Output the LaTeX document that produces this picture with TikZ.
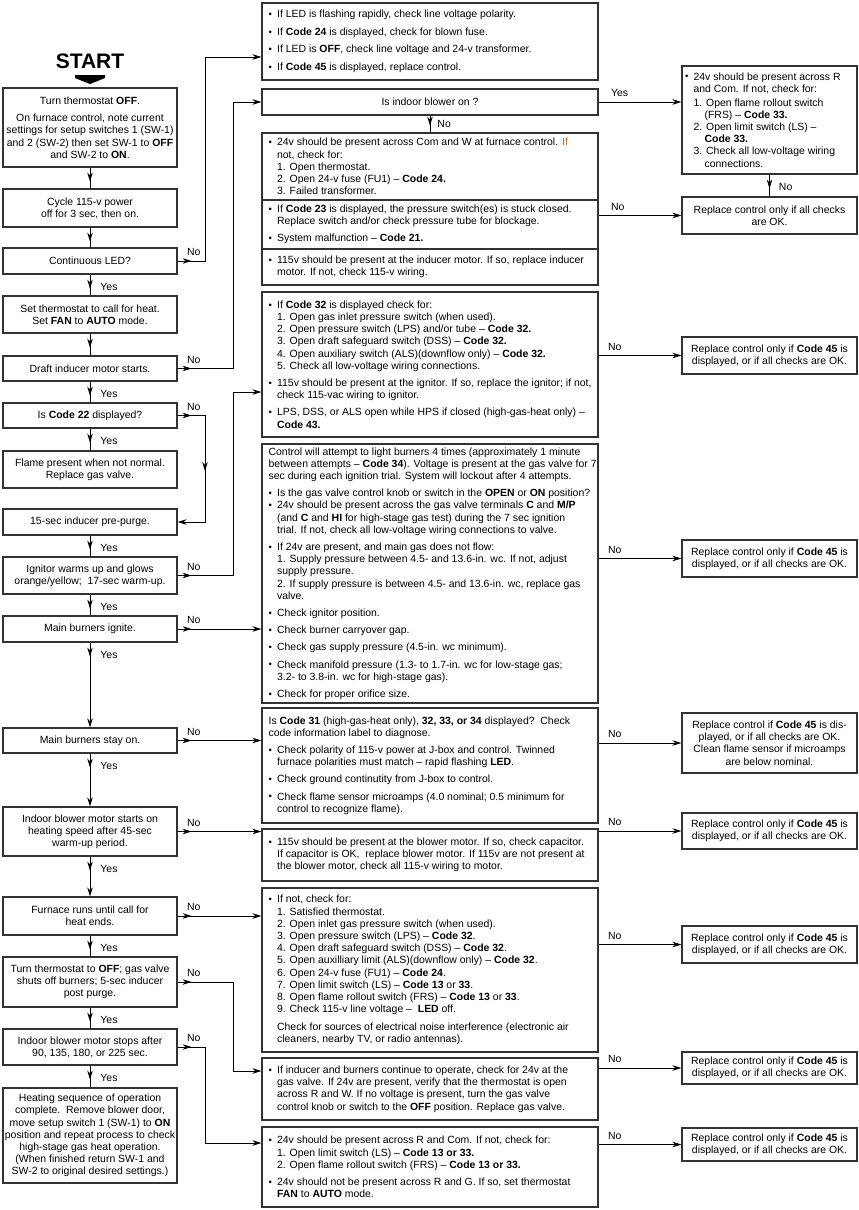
\documentclass[tikz,border=0pt]{standalone}
\usepackage{fontspec}
\setmainfont{Liberation Sans}
\usetikzlibrary{arrows.meta,decorations.markings}

\definecolor{ifcol}{HTML}{C8641E}
\newcommand{\bul}{\makebox[8.5pt][l]{\raisebox{0.3pt}{\fontsize{9.5}{9.5}\selectfont\textbullet}}}
\newcommand{\indt}{\hspace*{8.5pt}}
\newcommand{\subi}{\hspace*{19.5pt}}

\tikzset{
  >={Stealth[length=9pt,width=5.5pt]},
  every node/.style={font=\fontsize{10.45}{12.2}\selectfont},
  lbox/.style={draw=black!80, line width=1.2pt, minimum width=174pt, inner xsep=1pt, inner ysep=0pt, align=center},
  mbox/.style={draw=black!80, line width=1.2pt, minimum width=336pt, inner sep=0pt, align=center},
  mtext/.style={anchor=west, xshift=7pt, align=left, inner sep=0pt},
  rbox/.style={draw=black!80, line width=1.2pt, minimum width=175pt, inner sep=1pt, align=center},
  flow/.style={line width=0.9pt},
  tipat/.style={postaction={decorate, decoration={markings, mark=at position #1 with {\arrow{>}}}}},
  lbl/.style={inner sep=0pt},
  nolbl/.style={lbl, anchor=south west, xshift=9pt, yshift=4.5pt},
  yeslbl/.style={lbl, anchor=west, xshift=10pt, yshift=-12.5pt}
}

\begin{document}
\begin{tikzpicture}[x=1pt,y=-1pt]
  \useasboundingbox (0,0) rectangle (859,1210);
  \fill[white] (0,0) rectangle (859,1210);

  % start
  \node[font=\fontsize{21}{21}\selectfont\bfseries] (start) at (90,61) {START};
  \fill (75,75) -- (105,75) -- (105,78) -- (90,84) -- (75,78) -- cycle;

  % left column
  \node[lbox, minimum height=79pt] (l1) at (90,127.5) {Turn thermostat \textbf{OFF}.\\[5.5pt]On furnace control, note current\\settings for setup switches 1 (SW-1)\\and 2 (SW-2) then set SW-1 to \textbf{OFF}\\and SW-2 to \textbf{ON}.};
  \node[lbox, minimum height=38pt] (l2) at (90,208) {Cycle 115-v power\\off for 3 sec, then on.};
  \node[lbox, minimum height=26pt] (l3) at (90,261) {Continuous LED?};
  \node[lbox, minimum height=37pt] (l4) at (90,314.5) {Set thermostat to call for heat.\\Set \textbf{FAN} to \textbf{AUTO} mode.};
  \node[lbox, minimum height=25pt] (l5) at (90,368.5) {Draft inducer motor starts.};
  \node[lbox, minimum height=25pt] (l6) at (90,415.5) {Is \textbf{Code 22} displayed?};
  \node[lbox, minimum height=37pt] (l7) at (90,469.5) {Flame present when not normal.\\Replace gas valve.};
  \node[lbox, minimum height=26pt] (l8) at (90,522) {15-sec inducer pre-purge.};
  \node[lbox, minimum height=37pt] (l9) at (90,575.5) {Ignitor warms up and glows\\orange/yellow;\ \ 17-sec warm-up.};
  \node[lbox, minimum height=26pt] (l10) at (90,629) {Main burners ignite.};
  \node[lbox, minimum height=25pt] (l11) at (90,740.5) {Main burners stay on.};
  \node[lbox, minimum height=49pt] (l12) at (90,831.5) {Indoor blower motor starts on\\heating speed after 45-sec\\warm-up period.};
  \node[lbox, minimum height=38pt] (l13) at (90,916) {Furnace runs until call for\\heat ends.};
  \node[lbox, minimum height=50pt] (l14) at (90,982) {Turn thermostat to \textbf{OFF}; gas valve\\shuts off burners; 5-sec inducer\\post purge.};
  \node[lbox, minimum height=36pt] (l15) at (90,1047) {Indoor blower motor stops after\\90, 135, 180, or 225 sec.};
  \node[lbox, minimum height=95pt] (l16) at (90,1135.5) {Heating sequence of operation\\complete.\ \ Remove blower door,\\move setup switch 1 (SW-1) to \textbf{ON}\\position and repeat process to check\\high-stage gas heat operation.\\(When finished return SW-1 and\\SW-2 to original desired settings.)};

  % middle column
  \node[mbox, minimum height=77pt] (m1) at (430,41.5) {};
  \node[mtext] (m1t) at (m1.west) {\bul If LED is flashing rapidly, check line voltage polarity.\\[5.3pt]
    \bul If \textbf{Code 24} is displayed, check for blown fuse.\\[5.3pt]
    \bul If LED is \textbf{OFF}, check line voltage and 24-v transformer.\\[5.3pt]
    \bul If \textbf{Code 45} is displayed, replace control.};
  \node[mbox, minimum height=26pt] (m2) at (430,102) {Is indoor blower on ?};
  \node[mbox, minimum height=67pt] (m3a) at (430,166.5) {};
  \node[mtext] (m3at) at (m3a.west) {\bul 24v should be present across Com and W at furnace control. {\color{ifcol}If}\\
    \indt not, check for:\\
    \indt 1. Open thermostat.\\
    \indt 2. Open 24-v fuse (FU1) -- \textbf{Code 24.}\\
    \indt 3. Failed transformer.};
  \node[mbox, minimum height=49pt] (m3b) at (430,224.5) {};
  \node[mtext] (m3bt) at (m3b.west) {\bul If \textbf{Code 23} is displayed, the pressure switch(es) is stuck closed.\\
    \indt Replace switch and/or check pressure tube for blockage.\\[5pt]
    \bul System malfunction -- \textbf{Code 21.}};
  \node[mbox, minimum height=36pt] (m3c) at (430,267) {};
  \node[mtext] (m3ct) at (m3c.west) {\bul 115v should be present at the inducer motor. If so, replace inducer\\
    \indt motor. If not, check 115-v wiring.};
  \node[mbox, minimum height=145pt] (m4) at (430,364.5) {};
  \node[mtext] (m4t) at (m4.west) {\bul If \textbf{Code 32} is displayed check for:\\
    \indt 1. Open gas inlet pressure switch (when used).\\
    \indt 2. Open pressure switch (LPS) and/or tube -- \textbf{Code 32.}\\
    \indt 3. Open draft safeguard switch (DSS) -- \textbf{Code 32.}\\
    \indt 4. Open auxiliary switch (ALS)(downflow only) -- \textbf{Code 32.}\\
    \indt 5. Check all low-voltage wiring connections.\\[5pt]
    \bul 115v should be present at the ignitor. If so, replace the ignitor; if not,\\
    \indt check 115-vac wiring to ignitor.\\[5pt]
    \bul LPS, DSS, or ALS open while HPS if closed (high-gas-heat only) --\\
    \indt \textbf{Code 43.}};
  \node[mbox, minimum height=259pt] (m5) at (430,573.5) {};
  \node[mtext] (m5t) at (m5.west) {Control will attempt to light burners 4 times (approximately 1 minute\\
    between attempts -- \textbf{Code 34}). Voltage is present at the gas valve for 7\\
    sec during each ignition trial. System will lockout after 4 attempts.\\[5pt]
    \bul Is the gas valve control knob or switch in the \textbf{OPEN} or \textbf{ON} position?\\
    \bul 24v should be present across the gas valve terminals \textbf{C} and \textbf{M/P}\\
    \indt (and \textbf{C} and \textbf{HI} for high-stage gas test) during the 7 sec ignition\\
    \indt trial. If not, check all low-voltage wiring connections to valve.\\[5pt]
    \bul If 24v are present, and main gas does not flow:\\
    \indt 1. Supply pressure between 4.5- and 13.6-in. wc. If not, adjust\\
    \indt supply pressure.\\
    \indt 2. If supply pressure is between 4.5- and 13.6-in. wc, replace gas\\
    \indt valve.\\[5pt]
    \bul Check ignitor position.\\[5pt]
    \bul Check burner carryover gap.\\[5pt]
    \bul Check gas supply pressure (4.5-in. wc minimum).\\[5pt]
    \bul Check manifold pressure (1.3- to 1.7-in. wc for low-stage gas;\\
    \indt 3.2- to 3.8-in. wc for high-stage gas).\\[5pt]
    \bul Check for proper orifice size.};
  \node[mbox, minimum height=115pt] (m6) at (430,765.5) {};
  \node[mtext] (m6t) at (m6.west) {Is \textbf{Code 31} (high-gas-heat only), \textbf{32, 33, or 34} displayed?\ \ Check\\
    code information label to diagnose.\\[5pt]
    \bul Check polarity of 115-v power at J-box and control. Twinned\\
    \indt furnace polarities must match -- rapid flashing \textbf{LED}.\\[5pt]
    \bul Check ground continutity from J-box to control.\\[5pt]
    \bul Check flame sensor microamps (4.0 nominal; 0.5 minimum for\\
    \indt control to recognize flame).};
  \node[mbox, minimum height=52pt] (m7) at (430,855) {};
  \node[mtext] (m7t) at (m7.west) {\bul 115v should be present at the blower motor. If so, check capacitor.\\
    \indt If capacitor is OK,\ \ replace blower motor. If 115v are not present at\\
    \indt the blower motor, check all 115-v wiring to motor.};
  \node[mbox, minimum height=164pt] (m8) at (430,970) {};
  \node[mtext] (m8t) at (m8.west) {\bul If not, check for:\\
    \indt 1. Satisfied thermostat.\\
    \indt 2. Open inlet gas pressure switch (when used).\\
    \indt 3. Open pressure switch (LPS) -- \textbf{Code 32}.\\
    \indt 4. Open draft safeguard switch (DSS) -- \textbf{Code 32}.\\
    \indt 5. Open auxilliary limit (ALS)(downflow only) -- \textbf{Code 32}.\\
    \indt 6. Open 24-v fuse (FU1) -- \textbf{Code 24}.\\
    \indt 7. Open limit switch (LS) -- \textbf{Code 13} or \textbf{33}.\\
    \indt 8. Open flame rollout switch (FRS) -- \textbf{Code 13} or \textbf{33}.\\
    \indt 9. Check 115-v line voltage --\ \ \textbf{LED} off.\\[5.5pt]
    \indt Check for sources of electrical noise interference (electronic air\\
    \indt cleaners, nearby TV, or radio antennas).};
  \node[mbox, minimum height=62pt] (m9) at (430,1089) {};
  \node[mtext] (m9t) at (m9.west) {\bul If inducer and burners continue to operate, check for 24v at the\\
    \indt gas valve. If 24v are present, verify that the thermostat is open\\
    \indt across R and W. If no voltage is present, turn the gas valve\\
    \indt control knob or switch to the \textbf{OFF} position. Replace gas valve.};
  \node[mbox, minimum height=80pt] (m10) at (430,1167) {};
  \node[mtext] (m10t) at (m10.west) {\bul 24v should be present across R and Com. If not, check for:\\
    \indt 1. Open limit switch (LS) -- \textbf{Code 13 or 33.}\\
    \indt 2. Open flame rollout switch (FRS) -- \textbf{Code 13 or 33.}\\[5pt]
    \bul 24v should not be present across R and G. If so, set thermostat\\
    \indt \textbf{FAN} to \textbf{AUTO} mode.};

  % right column
  \node[rbox, minimum height=108pt] (r1) at (769.5,120) {};
  \node[mtext, xshift=-3.5pt] (r1t) at (r1.west) {\bul 24v should be present across R\\
    \indt and Com. If not, check for:\\[1.5pt]
    \indt 1. Open flame rollout switch\\
    \subi (FRS) -- \textbf{Code 33.}\\
    \indt 2. Open limit switch (LS) --\\
    \subi \textbf{Code 33.}\\
    \indt 3. Check all low-voltage wiring\\
    \subi connections.};
  \node[rbox, minimum height=37pt] (r2) at (769.5,215.5) {Replace control only if all checks\\are OK.};
  \node[rbox, minimum height=37pt] (r3) at (769.5,355.5) {Replace control only if \textbf{Code 45} is\\displayed, or if all checks are OK.};
  \node[rbox, minimum height=37pt] (r4) at (769.5,558.5) {Replace control only if \textbf{Code 45} is\\displayed, or if all checks are OK.};
  \node[rbox, minimum height=60pt] (r5) at (769.5,743) {Replace control if \textbf{Code 45} is dis-\\played, or if all checks are OK.\\Clean flame sensor if microamps\\are below nominal.};
  \node[rbox, minimum height=36pt] (r6) at (769.5,831) {Replace control only if \textbf{Code 45} is\\displayed, or if all checks are OK.};
  \node[rbox, minimum height=37pt] (r7) at (769.5,944.5) {Replace control only if \textbf{Code 45} is\\displayed, or if all checks are OK.};
  \node[rbox, minimum height=32pt] (r8) at (769.5,1068) {Replace control only if \textbf{Code 45} is\\displayed, or if all checks are OK.};
  \node[rbox, minimum height=33pt] (r9) at (769.5,1144.5) {Replace control only if \textbf{Code 45} is\\displayed, or if all checks are OK.};

  % buses for the bent connectors
  \coordinate (bus1) at (205,0);
  \coordinate (bus2) at (233,0);

  % yes chain
  \draw[flow, tipat=14pt] (l1.south) -- (l2.north);
  \draw[flow, tipat=14pt] (l2.south) -- (l3.north);
  \draw[flow, tipat=14pt] (l3.south) node[yeslbl] {Yes} -- (l4.north);
  \draw[flow, tipat=14pt] (l4.south) -- (l5.north);
  \draw[flow, tipat=14pt] (l5.south) node[yeslbl] {Yes} -- (l6.north);
  \draw[flow, tipat=14pt] (l6.south) node[yeslbl] {Yes} -- (l7.north);
  \draw[flow, tipat=14pt] (l8.south) node[yeslbl] {Yes} -- (l9.north);
  \draw[flow, tipat=14pt] (l9.south) node[yeslbl] {Yes} -- (l10.north);
  \draw[flow, ->, tipat=14pt] (l10.south) node[yeslbl] {Yes} -- (l11.north);
  \draw[flow, ->, tipat=14pt] (l11.south) node[yeslbl] {Yes} -- (l12.north);
  \draw[flow, ->, tipat=14pt] (l12.south) node[yeslbl] {Yes} -- (l13.north);
  \draw[flow, tipat=14pt] (l13.south) node[yeslbl] {Yes} -- (l14.north);
  \draw[flow, tipat=14pt] (l14.south) node[yeslbl] {Yes} -- (l15.north);
  \draw[flow, tipat=14pt] (l15.south) node[yeslbl] {Yes} -- (l16.north);

  % no branches, left to middle
  \draw[flow, ->, tipat=14pt] (l3.east) node[nolbl] {No} -- (l3.east -| bus1) |- ([yshift=-15.5pt]m1.west);
  \draw[flow, ->, tipat=14pt] (l5.east) node[nolbl] {No} -- (l5.east -| bus2) |- (m2.west);
  \draw[flow, ->, tipat=14pt, tipat=83pt] (l6.east) node[nolbl] {No} -- (l6.east -| bus1) |- (l8.east);
  \draw[flow, ->, tipat=14pt] (l9.east) node[nolbl] {No} -- (l9.east -| bus2) |- ([yshift=-27.5pt]m4.west);
  \draw[flow, ->, tipat=14pt] (l10.east) node[nolbl] {No} -- (l10.east -| m5.west);
  \draw[flow, ->, tipat=14pt] (l11.east) node[nolbl] {No} -- (l11.east -| m6.west);
  \draw[flow, ->, tipat=14pt] (l12.east) node[nolbl] {No} -- (l12.east -| m7.west);
  \draw[flow, ->, tipat=14pt] (l13.east) node[nolbl] {No} -- (l13.east -| m8.west);
  \draw[flow, ->, tipat=14pt] (l14.east) node[nolbl] {No} -- (l14.east -| bus2) |- ([yshift=18pt]m9.west);
  \draw[flow, ->, tipat=14pt] (l15.east) node[nolbl] {No} -- (l15.east -| bus1) |- ([yshift=24pt]m10.west);

  % middle to right
  \draw[flow, tipat=10pt] (m2.south) node[lbl, anchor=west, xshift=7pt, yshift=-8.5pt] {No} -- (m3a.north);
  \draw[flow, ->] (m2.east) node[nolbl, xshift=3pt] {Yes} -- (m2.east -| r1.west);
  \draw[flow, tipat=14pt] (r1.south) node[yeslbl, xshift=-1pt] {No} -- (r2.north);
  \draw[flow, ->] (r2.west -| m3b.east) node[nolbl, xshift=3pt] {No} -- (r2.west);
  \draw[flow, ->] (r3.west -| m4.east) node[nolbl] {No} -- (r3.west);
  \draw[flow, ->] (r4.west -| m5.east) node[nolbl] {No} -- (r4.west);
  \draw[flow, ->] (r5.west -| m6.east) node[nolbl] {No} -- (r5.west);
  \draw[flow, ->] (r6.west -| m7.east) node[nolbl] {No} -- (r6.west);
  \draw[flow, ->] (r7.west -| m8.east) node[nolbl] {No} -- (r7.west);
  \draw[flow, ->] (r8.west -| m9.east) node[nolbl] {No} -- (r8.west);
  \draw[flow, ->] (r9.west -| m10.east) node[nolbl] {No} -- (r9.west);
\end{tikzpicture}
\end{document}
